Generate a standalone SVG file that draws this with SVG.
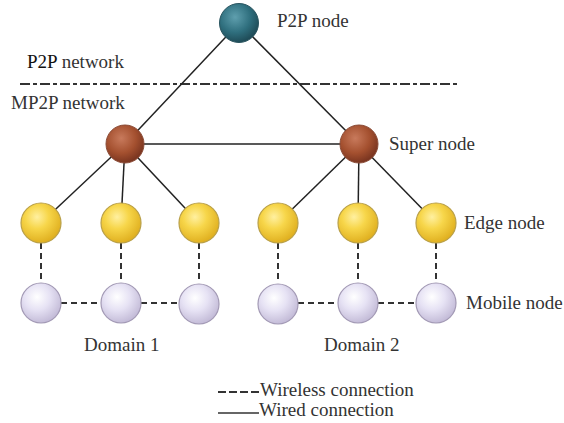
<svg xmlns="http://www.w3.org/2000/svg" width="564" height="423" viewBox="0 0 564 423">
<defs>
<radialGradient id="gTeal" cx="0.4" cy="0.35" r="0.65">
<stop offset="0" stop-color="#5f9fae"/><stop offset="0.6" stop-color="#2f6f7e"/><stop offset="1" stop-color="#1f4c58"/>
</radialGradient>
<radialGradient id="gBrown" cx="0.4" cy="0.35" r="0.65">
<stop offset="0" stop-color="#c87a5c"/><stop offset="0.6" stop-color="#a4502f"/><stop offset="1" stop-color="#7a3520"/>
</radialGradient>
<radialGradient id="gYellow" cx="0.4" cy="0.35" r="0.65">
<stop offset="0" stop-color="#fff0a0"/><stop offset="0.45" stop-color="#f7d64a"/><stop offset="1" stop-color="#e0b020"/>
</radialGradient>
<radialGradient id="gLav" cx="0.4" cy="0.35" r="0.65">
<stop offset="0" stop-color="#ffffff"/><stop offset="0.5" stop-color="#e6e2f4"/><stop offset="1" stop-color="#c4bcd8"/>
</radialGradient>
</defs>
<style>
.t{font-family:'Liberation Serif','Times New Roman','DejaVu Serif',serif;font-size:19px;fill:#333}
.wired{stroke:#222;stroke-width:1.5;fill:none}
.wireless{stroke:#333;stroke-width:2;stroke-dasharray:6,4;fill:none}
.sep{stroke:#333;stroke-width:2;stroke-dasharray:10,3,4,3;fill:none}
.teal{fill:url(#gTeal);stroke:#2a5560;stroke-width:1}
.brown{fill:url(#gBrown);stroke:#8a4a35;stroke-width:1}
.yellow{fill:url(#gYellow);stroke:#b9a04a;stroke-width:1.2}
.lav{fill:url(#gLav);stroke:#a39ab5;stroke-width:1.2}
</style>
<rect width="564" height="423" fill="#ffffff"/>
<line class="sep" x1="20" y1="84" x2="457" y2="84"/>
<g id="connectors">
<line class="wired" x1="239" y1="23" x2="125" y2="144"/>
<line class="wired" x1="239" y1="23" x2="359" y2="144"/>
<line class="wired" x1="125" y1="144" x2="359" y2="144"/>
<line class="wired" x1="125" y1="144" x2="41" y2="223"/>
<line class="wired" x1="125" y1="144" x2="121" y2="223"/>
<line class="wired" x1="125" y1="144" x2="199" y2="223"/>
<line class="wired" x1="359" y1="144" x2="278" y2="223"/>
<line class="wired" x1="359" y1="144" x2="358" y2="223"/>
<line class="wired" x1="359" y1="144" x2="436" y2="223"/>
<line class="wireless" x1="41" y1="243" x2="41" y2="283"/>
<line class="wireless" x1="121" y1="243" x2="121" y2="283"/>
<line class="wireless" x1="199" y1="243" x2="199" y2="283"/>
<line class="wireless" x1="278" y1="243" x2="278" y2="283"/>
<line class="wireless" x1="358" y1="243" x2="358" y2="283"/>
<line class="wireless" x1="436" y1="243" x2="436" y2="283"/>
<line class="wireless" x1="61" y1="303" x2="101" y2="303"/>
<line class="wireless" x1="141" y1="303" x2="179" y2="303"/>
<line class="wireless" x1="298" y1="303" x2="338" y2="303"/>
<line class="wireless" x1="378" y1="303" x2="416" y2="303"/>
</g>
<g id="p2p-node"><circle class="teal" cx="239" cy="23" r="19.5"/></g>
<g id="super-left"><circle class="brown" cx="125" cy="144" r="19"/></g>
<g id="super-right"><circle class="brown" cx="359" cy="144" r="19"/></g>
<g id="edge1"><circle class="yellow" cx="41" cy="223" r="20"/></g>
<g id="edge2"><circle class="yellow" cx="121" cy="223" r="20"/></g>
<g id="edge3"><circle class="yellow" cx="199" cy="223" r="20"/></g>
<g id="edge4"><circle class="yellow" cx="278" cy="223" r="20"/></g>
<g id="edge5"><circle class="yellow" cx="358" cy="223" r="20"/></g>
<g id="edge6"><circle class="yellow" cx="436" cy="223" r="20"/></g>
<g id="mobile1"><circle class="lav" cx="41" cy="303" r="20"/></g>
<g id="mobile2"><circle class="lav" cx="121" cy="303" r="20"/></g>
<g id="mobile3"><circle class="lav" cx="199" cy="304" r="20"/></g>
<g id="mobile4"><circle class="lav" cx="278" cy="304" r="20"/></g>
<g id="mobile5"><circle class="lav" cx="358" cy="303" r="20"/></g>
<g id="mobile6"><circle class="lav" cx="436" cy="303" r="20"/></g>
<g id="legend">
<line stroke="#333" stroke-width="2" stroke-dasharray="8,3" x1="218" y1="392" x2="260" y2="392"/>
<line stroke="#333" stroke-width="1.5" x1="218" y1="413" x2="259" y2="413"/>
<text class="t" font-family="Liberation Serif, serif" x="260" y="396">Wireless connection</text>
<text class="t" font-family="Liberation Serif, serif" x="259" y="416">Wired connection</text>
</g>
<g id="labels">
<text class="t" font-family="Liberation Serif, serif" x="277" y="27">P2P node</text>
<text class="t" font-family="Liberation Serif, serif" x="27" y="68"><tspan fill="#111">P2P</tspan> network</text>
<text class="t" font-family="Liberation Serif, serif" x="11" y="109">MP2P network</text>
<text class="t" font-family="Liberation Serif, serif" x="389" y="150">Super node</text>
<text class="t" font-family="Liberation Serif, serif" x="464" y="229">Edge node</text>
<text class="t" font-family="Liberation Serif, serif" x="466" y="309">Mobile node</text>
<text class="t" font-family="Liberation Serif, serif" x="84" y="351">Domain 1</text>
<text class="t" font-family="Liberation Serif, serif" x="324" y="351">Domain 2</text>
</g>
</svg>
